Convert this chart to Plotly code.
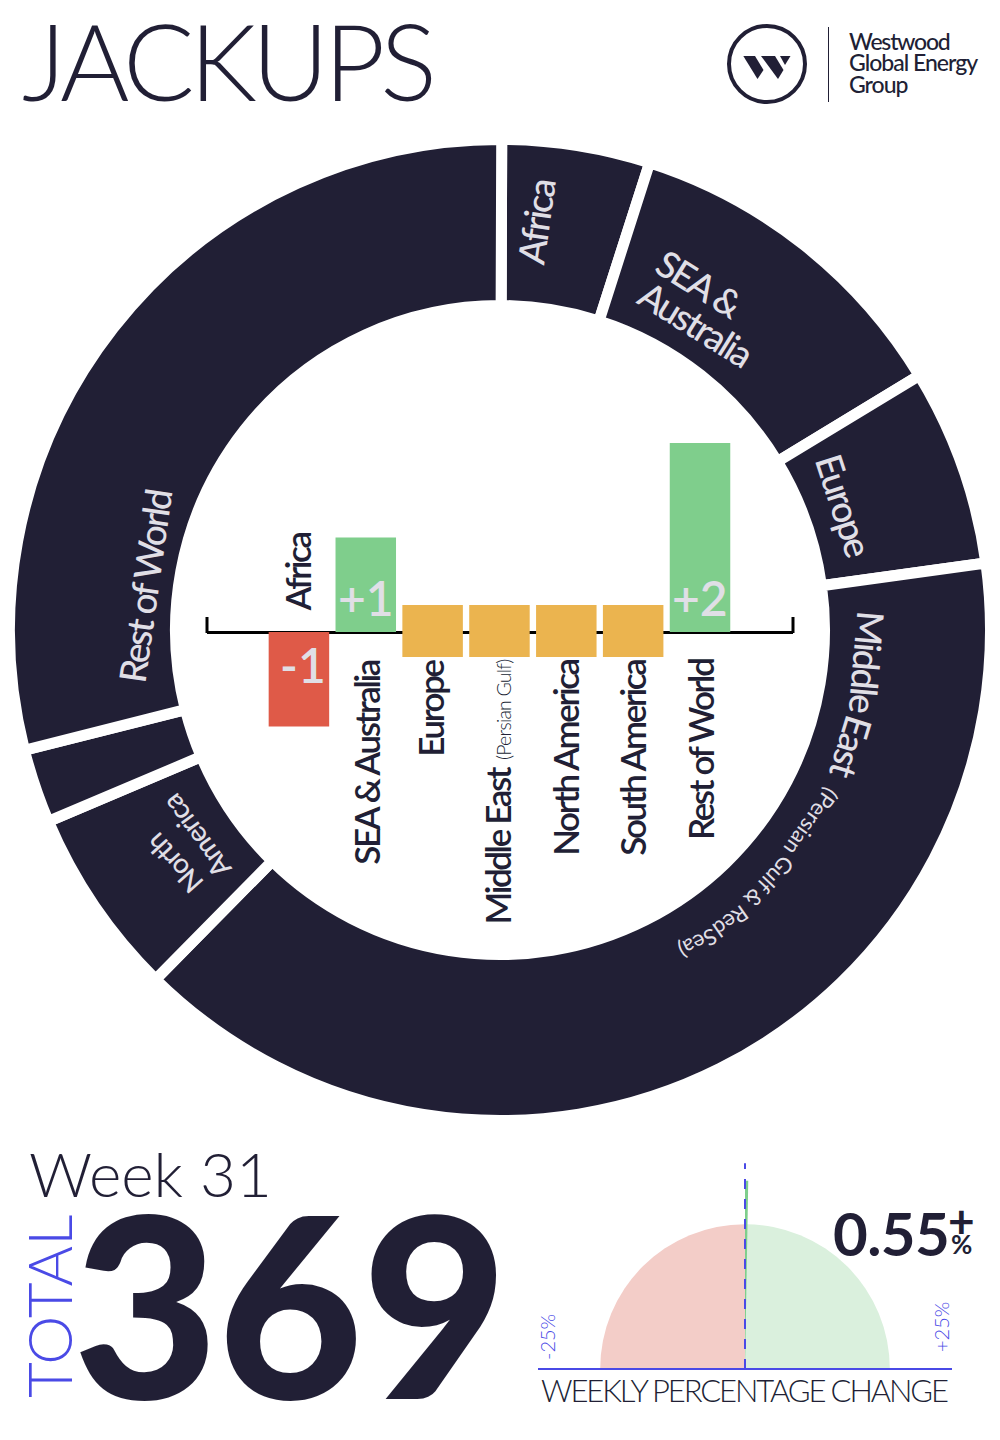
import plotly.graph_objects as go

W = 1000
H = 1440

NAVY = '#211f35'
PALE = '#e0dfe6'
BLUE = '#4a4ae6'
GREEN = '#7fce8c'
RED = '#df5a48'
AMBER = '#ebb44f'

regions = ['Africa', 'SEA & Australia', 'Europe', 'Middle East', 'North America', 'South America', 'Rest of World']
rig_counts = [18, 42, 24, 146, 23, 9, 107]
weekly_moves = [-1, 1, 0, 0, 0, 0, 2]
move_labels = ['-1', '+1', '', '', '', '', '+2']
total_rigs = '369'
week_label = 'Week 31'
weekly_pct = 0.55

# small sideways nudges for the region names, in pixels
name_nudges = [-2, 0, -3, -2, -2, -2, 0]


def px(x):
    return x / W


def py(y):
    return 1 - y / H


def note(text, x, y, size, color=NAVY, angle=0, family='Lato Medium', spacing=None, **kw):
    if spacing is not None:
        text = '<span style="letter-spacing:%spx">%s</span>' % (spacing, text)
    return dict(text=text, x=px(x), y=py(y), xref='paper', yref='paper', showarrow=False,
                textangle=angle, xanchor=kw.pop('xanchor', 'center'), yanchor=kw.pop('yanchor', 'middle'),
                font=dict(family=family, size=size, color=color), **kw)


fig = go.Figure()

# ring
fig.add_trace(go.Pie(
    labels=regions, values=rig_counts, sort=False, direction='clockwise', rotation=0.2,
    hole=0.6616, textinfo='none', hoverinfo='label+value', showlegend=False,
    marker=dict(colors=[NAVY] * 7, line=dict(color='white', width=11)),
    domain=dict(x=[px(500 - 490.5), px(500 + 490.5)], y=[py(630 + 490.5), py(630 - 490.5)]),
))

# moves in the middle of the ring
fig.add_trace(go.Bar(
    x=regions, y=[m if m != 0 else None for m in weekly_moves],
    marker=dict(color=[GREEN if m > 0 else RED for m in weekly_moves], line_width=0),
    width=0.905, showlegend=False,
))
fig.add_trace(go.Bar(
    x=regions, y=[0.551 if m == 0 else None for m in weekly_moves], base=-0.265,
    marker=dict(color=AMBER, line_width=0), width=0.905, showlegend=False,
))

# weekly change gauge
fig.add_trace(go.Barpolar(
    r=[1, 1], theta=[-45, 45], width=[90, 90],
    marker=dict(color=['#f3cdc8', '#daf0dd'], line_width=0), showlegend=False,
))
fig.add_trace(go.Scatterpolar(
    r=[0, 1.42], theta=[0, 0], mode='lines', line=dict(color=BLUE, width=2, dash='10px,10px'), showlegend=False,
))
needle = weekly_pct * 1.8
fig.add_trace(go.Barpolar(
    r=[1.3], theta=[needle / 2], width=[needle],
    marker=dict(color=GREEN, line_width=0), showlegend=False,
))

annotations = [
    note('JACKUPS', 20, 60, 106, family='Lato Light', spacing=-5, xanchor='left'),
    note('Westwood', 847, 41, 23, spacing=-1.2, xanchor='left'),
    note('Global Energy', 847, 62, 23, spacing=-1, xanchor='left'),
    note('Group', 847, 84, 23, spacing=-1, xanchor='left'),
    note('Africa', 535, 222, 37, PALE, angle=-82, spacing=-2),
    note('SEA &amp;', 700, 284, 37, PALE, angle=32, spacing=-2),
    note('Australia', 696, 324, 37, PALE, angle=32, spacing=-2),
    note('Europe', 844, 505, 37, PALE, angle=72, spacing=-2),
    note('Middle', 867, 662, 37, PALE, angle=95, spacing=-2),
    note('East', 852, 748, 37, PALE, angle=107, spacing=-2),
    note('Rest of World', 144, 586, 37, PALE, angle=-82, spacing=-2.3),
    note('North', 174, 864, 28, PALE, angle=-132, spacing=-1),
    note('America', 196, 837, 28, PALE, angle=-126, spacing=-1),
    note(week_label, 27, 1173, 62, family='Lato Light', xanchor='left'),
    note('TOTAL', 48, 1307, 62, BLUE, angle=-90, family='Lato Light'),
    note(total_rigs, 290, 1301, 251, family='Lato Black', spacing=-1),
    note('0.55', 891, 1233, 60, family='Lato', spacing=-0.6),
    note('+', 961, 1220, 46, family='Lato'),
    note('%', 961, 1244, 26, family='Lato'),
    note('-25%', 547, 1337, 20, BLUE, angle=-90, family='Lato Light'),
    note('+25%', 941, 1327, 20, BLUE, angle=-90, family='Lato Light'),
    note('WEEKLY PERCENTAGE CHANGE', 744, 1390, 31, family='Lato Light', spacing=-2.1),
]
# bold faces for the small stat
for a in annotations[-6:-3]:
    a['font']['weight'] = 700

# curved note under Middle East, word by word along the ring
for word, x, y, ang in [('(Persian', 812, 822, 125), ('Gulf', 776, 874, 133), ('&amp;', 754, 899, 140),
                        ('Red', 731, 921, 145), ('Sea)', 698, 944, 155)]:
    annotations.append(note(word, x, y, 22, PALE, angle=ang, family='Lato'))

# bar value labels and region names
for i, name in enumerate(regions):
    if move_labels[i]:
        annotations.append(dict(text=move_labels[i], x=name, y=0.36 if weekly_moves[i] > 0 else -0.34,
                                xref='x', yref='y', showarrow=False, xshift=4 if weekly_moves[i] < 0 else 0,
                                font=dict(family='Lato Semibold', size=48, color=PALE)))
    if i == 0:
        top, anchor = 0.2, 'bottom'
    else:
        top, anchor = -0.27, 'top'
    shown = '<span style="letter-spacing:-2.4px">%s</span>' % name.replace('&', '&amp;')
    if name == 'Middle East':
        shown += ' <span style="font-size:19.5px;font-family:Lato Light;letter-spacing:-0.8px">(Persian Gulf)</span>'
    annotations.append(dict(text=shown, x=name, y=top, xref='x', yref='y', showarrow=False, textangle=-90,
                            xanchor='center', yanchor=anchor, xshift=name_nudges[i],
                            font=dict(family='Lato Semibold', size=35, color=NAVY)))


def poly(points):
    path = 'M ' + ' L '.join('%f %f' % (px(x), py(y)) for x, y in points) + ' Z'
    return dict(type='path', xref='paper', yref='paper', fillcolor=NAVY, line_width=0, path=path)


shapes = [
    # logo
    dict(type='circle', xref='paper', yref='paper', x0=px(729), x1=px(805), y0=py(102), y1=py(26),
         line=dict(color=NAVY, width=4)),
    poly([(743.3, 56), (755, 56), (763.5, 70), (757.5, 79)]),
    poly([(761, 56), (775, 56), (783.5, 70), (778, 79)]),
    poly([(780, 56), (790.5, 56), (785, 65)]),
    dict(type='line', xref='paper', yref='paper', x0=px(828.5), x1=px(828.5), y0=py(27), y1=py(102),
         line=dict(color=NAVY, width=1)),
    # axis end ticks
    dict(type='line', xref='paper', yref='paper', layer='below', x0=px(207), x1=px(207), y0=py(633), y1=py(617),
         line=dict(color='black', width=3)),
    dict(type='line', xref='paper', yref='paper', layer='below', x0=px(793), x1=px(793), y0=py(633), y1=py(617),
         line=dict(color='black', width=3)),
    # gauge base
    dict(type='line', xref='paper', yref='paper', x0=px(538), x1=px(952), y0=py(1369), y1=py(1369),
         line=dict(color=BLUE, width=2)),
]

fig.update_layout(
    width=W, height=H, margin=dict(l=0, r=0, t=0, b=0), paper_bgcolor='white', plot_bgcolor='rgba(0,0,0,0)',
    barmode='overlay', showlegend=False,
    xaxis=dict(domain=[px(207), px(793)], type='category', categoryorder='array', categoryarray=regions,
               range=[-1.375, 7.391], showticklabels=False, showgrid=False, zeroline=False, ticks=''),
    yaxis=dict(domain=[py(773.75), py(395.75)], range=[-1.5, 2.5], showticklabels=False, showgrid=False,
               zeroline=True, zerolinecolor='black', zerolinewidth=3, ticks=''),
    polar=dict(domain=dict(x=[px(535), px(955)], y=[py(1369), py(1159)]), sector=[0, 180],
               bgcolor='rgba(0,0,0,0)', barmode='overlay',
               radialaxis=dict(visible=False, range=[0, 1.45]),
               angularaxis=dict(visible=False, direction='clockwise', rotation=90, thetaunit='degrees')),
    annotations=annotations, shapes=shapes,
)

fig.write_html('out.html', config={'displayModeBar': False}, post_script="document.body.style.margin='0';")
